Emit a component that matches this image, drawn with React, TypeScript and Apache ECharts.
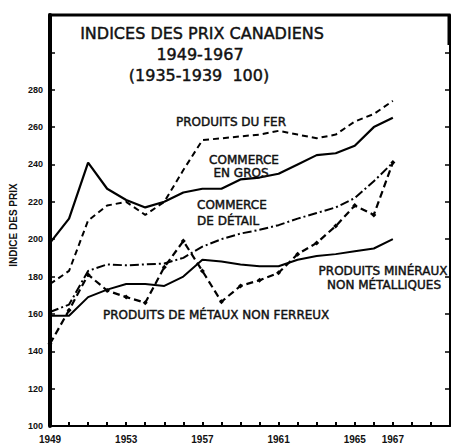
import React, { useEffect, useRef } from "react";
import * as echarts from "echarts";

const years = [1949, 1950, 1951, 1952, 1953, 1954, 1955, 1956, 1957, 1958, 1959, 1960, 1961, 1962, 1963, 1964, 1965, 1966, 1967];
const produitsDuFer = [176, 183, 210, 218, 220, 213, 220, 237, 253, 254, 255, 256, 258, 256, 254, 256, 263, 267, 274];
const commerceEnGros = [198, 211, 241, 227, 221, 217, 220, 225, 227, 227, 232, 233, 235, 240, 245, 246, 250, 260, 265];
const commerceDeDetail = [161, 165, 183, 186.5, 186, 186.5, 187, 190, 196, 200, 203, 205, 207.5, 211, 214, 217, 222, 231, 241];
const produitsMineraux = [159, 159, 169, 173, 176, 176, 175, 180, 189, 188, 186.5, 185.5, 185.5, 189, 191, 192, 193.5, 195, 200];
const metauxNonFerreux = [144, 162, 181, 172.5, 169, 166, 185, 199, 183, 166.5, 175, 178, 182, 192, 198, 207, 218, 213, 241];
const xTickLabels = [1949, 1953, 1957, 1961, 1965, 1967];
const yTickLabelMax = 280;

const FONT = "DejaVu Sans";
const NUMFONT = "Liberation Sans";

const GRID_LEFT = 50;
const GRID_RIGHT = 4;
const GRID_TOP = 15;
const GRID_BOTTOM = 22;
const W = 454;
const H = 448;

function pairs(vals: number[]) {
  return years.map((y, i) => [y, vals[i]]);
}

export default function App() {
  const ref = useRef<HTMLDivElement>(null);
  useEffect(() => {
    if (!ref.current) return;
    const chart = echarts.init(ref.current, undefined, { renderer: "svg" });
    const lineBase = { type: "line", symbol: "none", smooth: false, z: 3 };
    const txt = (text: string, x: number, y: number, align: string, size = 12) => ({
      type: "text",
      x,
      y,
      z: 10,
      style: {
        text,
        fill: "#111",
        stroke: "#111",
        lineWidth: 0.45,
        font: `${size}px "${FONT}"`,
        align,
        verticalAlign: "middle",
      },
    });
    chart.setOption({
      animation: false,
      backgroundColor: "#fff",
      grid: { left: GRID_LEFT, right: GRID_RIGHT, top: GRID_TOP, bottom: GRID_BOTTOM },
      xAxis: [
        {
          type: "value",
          min: 1949,
          max: 1970,
          interval: 1,
          axisLine: { show: true, onZero: false, lineStyle: { color: "#000", width: 2 } },
          axisTick: { show: true, inside: true, length: 4, lineStyle: { color: "#000", width: 2 } },
          splitLine: { show: false },
          axisLabel: {
            margin: 8,
            color: "#111",
            fontFamily: NUMFONT,
            fontWeight: "bold",
            fontSize: 10,
            formatter: (v: number) => (xTickLabels.includes(Math.round(v)) ? String(Math.round(v)) : ""),
          },
        },
      ],
      yAxis: [
        {
          type: "value",
          min: 100,
          max: 320,
          interval: 20,
          axisLine: { show: true, onZero: false, lineStyle: { color: "#000", width: 4 } },
          axisTick: { show: true, inside: true, length: 5, lineStyle: { color: "#000", width: 1.5 } },
          splitLine: { show: false },
          axisLabel: {
            margin: 7,
            color: "#111",
            fontFamily: NUMFONT,
            fontWeight: "bold",
            fontSize: 9,
            formatter: (v: number) => (v <= yTickLabelMax ? String(v) : ""),
          },
        },
        {
          type: "value",
          position: "right",
          min: 100,
          max: 320,
          interval: 20,
          axisLine: { show: true, onZero: false, lineStyle: { color: "#000", width: 2 } },
          axisTick: { show: true, inside: true, length: 5, lineStyle: { color: "#000", width: 1.5 } },
          axisLabel: { show: false },
          splitLine: { show: false },
        },
      ],
      series: [
        {
          ...lineBase,
          name: "PRODUITS DU FER",
          data: pairs(produitsDuFer),
          lineStyle: { color: "#000", width: 2, type: [6, 4] },
        },
        {
          ...lineBase,
          name: "COMMERCE EN GROS",
          data: pairs(commerceEnGros),
          lineStyle: { color: "#000", width: 2.2, type: "solid" },
        },
        {
          ...lineBase,
          name: "COMMERCE DE DÉTAIL",
          data: pairs(commerceDeDetail),
          lineStyle: { color: "#000", width: 2, type: [9, 3, 2, 3] },
        },
        {
          ...lineBase,
          name: "PRODUITS MINÉRAUX NON MÉTALLIQUES",
          data: pairs(produitsMineraux),
          lineStyle: { color: "#000", width: 2, type: "solid" },
        },
        {
          ...lineBase,
          name: "PRODUITS DE MÉTAUX NON FERREUX",
          data: pairs(metauxNonFerreux),
          symbol: "diamond",
          symbolSize: 5,
          showSymbol: true,
          itemStyle: { color: "#000" },
          lineStyle: { color: "#000", width: 2.2, type: [7, 4] },
        },
      ],
      graphic: [
        {
          type: "polyline",
          z: 20,
          shape: {
            points: [
              [GRID_LEFT, GRID_TOP + 30],
              [GRID_LEFT, GRID_TOP],
              [W - GRID_RIGHT - 1, GRID_TOP],
              [W - GRID_RIGHT - 1, GRID_TOP + 30],
            ],
          },
          style: { stroke: "#000", lineWidth: 3, fill: "none" },
        },
        txt("INDICES DES PRIX CANADIENS", 202, 33, "center", 16),
        txt("1949-1967", 200, 54, "center", 16),
        txt("(1935-1939  100)", 199, 75, "center", 16),
        txt("PRODUITS DU FER", 231, 122, "center", 12),
        txt("COMMERCE", 244, 160, "center", 12),
        txt("EN GROS", 241, 173, "center", 12),
        txt("COMMERCE", 197, 205, "left", 12),
        txt("DE DÉTAIL", 197, 221, "left", 12),
        txt("PRODUITS MINÉRAUX", 383, 271, "center", 12),
        txt("NON MÉTALLIQUES", 384, 285, "center", 12),
        txt("PRODUITS DE MÉTAUX NON FERREUX", 103, 315, "left", 12),
        {
          type: "text",
          x: 13,
          y: 225,
          rotation: Math.PI / 2,
          style: {
            text: "INDICE DES PRIX",
            fill: "#111",
            font: `bold 10px "${NUMFONT}"`,
            align: "center",
            verticalAlign: "middle",
          },
        },
      ],
    });
    return () => chart.dispose();
  }, []);
  return (
    <div
      ref={ref}
      style={{ position: "fixed", left: 0, top: 0, width: W, height: H, background: "#fff" }}
    />
  );
}
